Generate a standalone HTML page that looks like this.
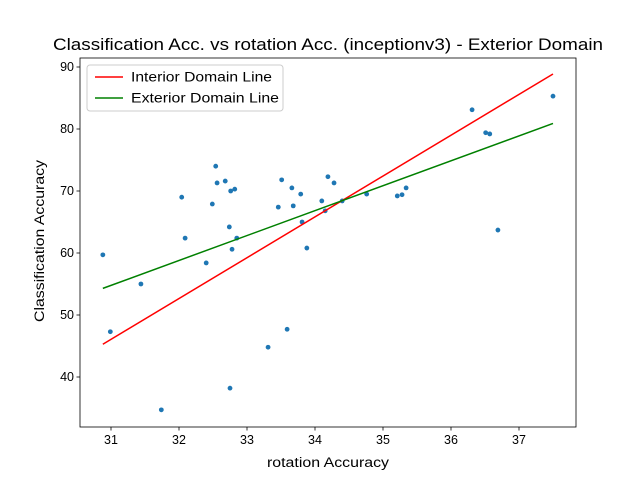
<!DOCTYPE html>
<html><head><meta charset="utf-8"><style>body{margin:0;background:#fff}svg{display:block;font-family:"Liberation Sans","DejaVu Sans",sans-serif}</style></head>
<body>
<svg id="chart" width="640" height="480" viewBox="0 0 640 480"></svg>
<script>
const xs=[30.88,30.99,31.44,31.74,32.04,32.09,32.40,32.49,32.54,32.56,32.68,32.74,32.75,32.76,32.78,32.82,32.85,33.31,33.46,33.51,33.59,33.66,33.68,33.79,33.81,33.88,34.10,34.15,34.19,34.28,34.40,34.76,35.21,35.28,35.34,36.31,36.51,36.57,36.69,37.50];
const ys=[59.7,47.3,55.0,34.7,69.0,62.4,58.4,67.9,74.0,71.3,71.6,64.2,38.2,70.0,60.6,70.3,62.4,44.8,67.4,71.8,47.7,70.5,67.6,69.5,65.0,60.8,68.4,66.8,72.3,71.3,68.4,69.5,69.2,69.4,70.5,83.1,79.4,79.2,63.7,85.3];
const lineNames=["Interior Domain Line","Exterior Domain Line"];
const lineSlopes=[6.586,4.018];
const lineIntercepts=[-158.1,-69.78];
const lineColors=["red","green"];
const xTicks=[31,32,33,34,35,36,37];
const yTicks=[40,50,60,70,80,90];
const L=80,R=576,T=58,B=427;
const sx=v=>111+(v-31)*68;
const sy=v=>67+(90-v)*6.2;
const svg=document.getElementById('chart');
const NS='http://www.w3.org/2000/svg';
function mk(tag,attrs,parent){const e=document.createElementNS(NS,tag);for(const k in attrs)e.setAttribute(k,attrs[k]);(parent||svg).appendChild(e);return e;}
let t=mk('text',{x:328,y:50,'text-anchor':'middle','font-size':17,textLength:550,lengthAdjust:'spacingAndGlyphs',fill:'#000'});t.textContent='Classification Acc. vs rotation Acc. (inceptionv3) - Exterior Domain';


xs.forEach((x,i)=>{const c=mk('circle',{cx:sx(x),cy:sy(ys[i]),r:2.4,fill:'#1f77b4'});

});
const xmin=Math.min(...xs),xmax=Math.max(...xs);
lineSlopes.forEach((m,i)=>{const b=lineIntercepts[i];const l=mk('line',{x1:sx(xmin),y1:sy(m*xmin+b),x2:sx(xmax),y2:sy(m*xmax+b),stroke:lineColors[i],'stroke-width':1.5});

});
const ax=mk('rect',{x:L,y:T,width:R-L,height:B-T,fill:'none',stroke:'#000','stroke-width':0.8});


xTicks.forEach(v=>{mk('line',{x1:sx(v),y1:B,x2:sx(v),y2:B+3.5,stroke:'#000','stroke-width':0.8});const tx=mk('text',{x:sx(v),y:B+17,'text-anchor':'middle','font-size':12.5});tx.textContent=v;

});
yTicks.forEach(v=>{mk('line',{x1:L-3.5,y1:sy(v),x2:L,y2:sy(v),stroke:'#000','stroke-width':0.8});const ty=mk('text',{x:L-6,y:sy(v)+4,'text-anchor':'end','font-size':12.5});ty.textContent=v;

});
let xl=mk('text',{x:328,y:467,'text-anchor':'middle','font-size':13.5,textLength:122,lengthAdjust:'spacingAndGlyphs'});xl.textContent='rotation Accuracy';


let yl=mk('text',{x:44,y:241,'text-anchor':'middle','font-size':13.5,textLength:162,lengthAdjust:'spacingAndGlyphs',transform:'rotate(-90 44 241)'});yl.textContent='Classification Accuracy';


const lg=mk('g',{});


mk('rect',{x:87,y:65,width:196,height:46,rx:3,fill:'#fff',stroke:'#ccc','stroke-width':1},lg);
lineNames.forEach((n,i)=>{const y=77+i*21;mk('line',{x1:95,y1:y,x2:123,y2:y,stroke:lineColors[i],'stroke-width':1.5},lg);const e=mk('text',{x:131,y:y+4.5,'font-size':13.5,textLength:i?148:141,lengthAdjust:'spacingAndGlyphs'},lg);e.textContent=n;

});
</script>
</body></html>
